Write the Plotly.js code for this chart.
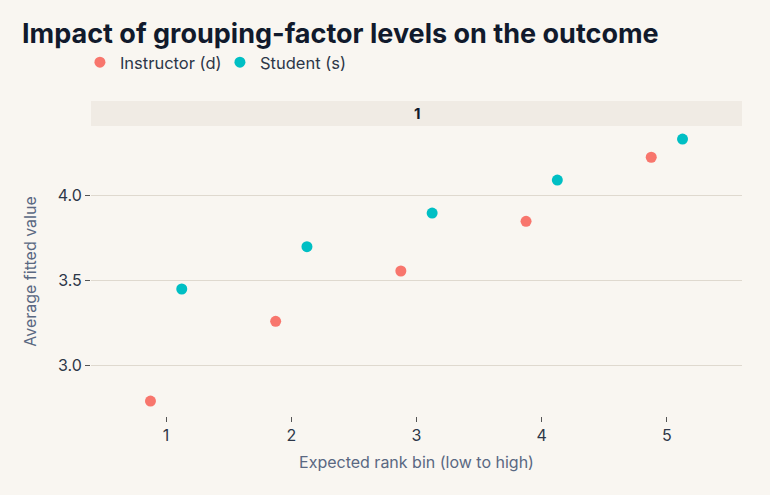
<!DOCTYPE html>
<html>
<head>
<meta charset="utf-8">
<script src="https://cdn.plot.ly/plotly-3.0.1.min.js"></script>
<style>html,body{margin:0;padding:0;background:#F9F6F1;}</style>
</head>
<body>
<div id="chart" style="width:770px;height:495px;"></div>
<script>
const bins = [1, 2, 3, 4, 5];
const groups = ["Instructor (d)", "Student (s)"];
const instructorValues = [2.788, 3.257, 3.553, 3.845, 4.222];
const studentValues = [3.447, 3.696, 3.894, 4.088, 4.329];
const dodge = [-0.125, 0.125];
const colors = ["#F8766D", "#00BFC4"];
const seriesValues = [instructorValues, studentValues];

const traces = groups.map((g, i) => ({
  type: "scatter",
  mode: "markers",
  name: g,
  x: bins.map(b => b + dodge[i]),
  y: seriesValues[i],
  marker: {color: colors[i], size: 11},
  hoverinfo: "x+y"
}));

const ph = 289;
const layout = {
  width: 770, height: 495,
  paper_bgcolor: "#F9F6F1",
  plot_bgcolor: "#F9F6F1",
  margin: {l: 91, r: 28, t: 127, b: 79, pad: 0},
  font: {family: "Inter, 'Noto Sans', sans-serif", color: "#2D3748"},
  title: {
    text: "<b>Impact of grouping-factor levels on the outcome</b>",
    font: {family: "Inter, sans-serif", size: 27, color: "#111A2C", weight: 800},
    xref: "container", x: 22/770, xanchor: "left",
    yref: "container", y: 1 - 34/495, yanchor: "middle"
  },
  showlegend: true,
  legend: {
    orientation: "h", x: -0.017, xanchor: "left", y: 1 + (127-45)/ph, yanchor: "top",
    font: {size: 16.5, color: "#2D3748"}, bgcolor: "rgba(0,0,0,0)",
    tracegroupgap: 0, entrywidth: 95, entrywidthmode: "pixels"
  },
  xaxis: {
    range: [0.4, 5.6],
    tickvals: bins, ticktext: bins.map(String),
    showgrid: false, zeroline: false, showline: false,
    ticks: "outside", ticklen: 5, tickcolor: "#555", tickwidth: 1,
    tickfont: {size: 16, color: "#2D3748"},
    title: {text: "Expected rank bin (low to high)", font: {size: 16, color: "#5A6882"}, standoff: 12}
  },
  yaxis: {
    range: [2.70, 4.40],
    tickvals: [3.0, 3.5, 4.0], ticktext: ["3.0", "3.5", "4.0"],
    showgrid: true, gridcolor: "#DFD9CF", gridwidth: 1,
    zeroline: false, showline: false,
    ticks: "outside", ticklen: 5, tickcolor: "#555", tickwidth: 1,
    tickfont: {size: 16, color: "#2D3748"},
    title: {text: "Average fitted value", font: {size: 16, color: "#5A6882"}, standoff: 17}
  },
  shapes: [{
    type: "rect", xref: "paper", yref: "paper",
    x0: 0, x1: 1, y0: 1 + 1/ph, y1: 1 + 26/ph,
    fillcolor: "#F0EBE4", line: {width: 0}, layer: "below"
  }],
  annotations: [{
    text: "<b>1</b>", xref: "paper", yref: "paper", x: 0.5, y: 1 + 13.5/ph,
    xanchor: "center", yanchor: "middle", showarrow: false,
    font: {size: 15, color: "#111A2C"}
  }]
};

Plotly.newPlot("chart", traces, layout, {displayModeBar: false, responsive: false});
</script>
</body>
</html>
